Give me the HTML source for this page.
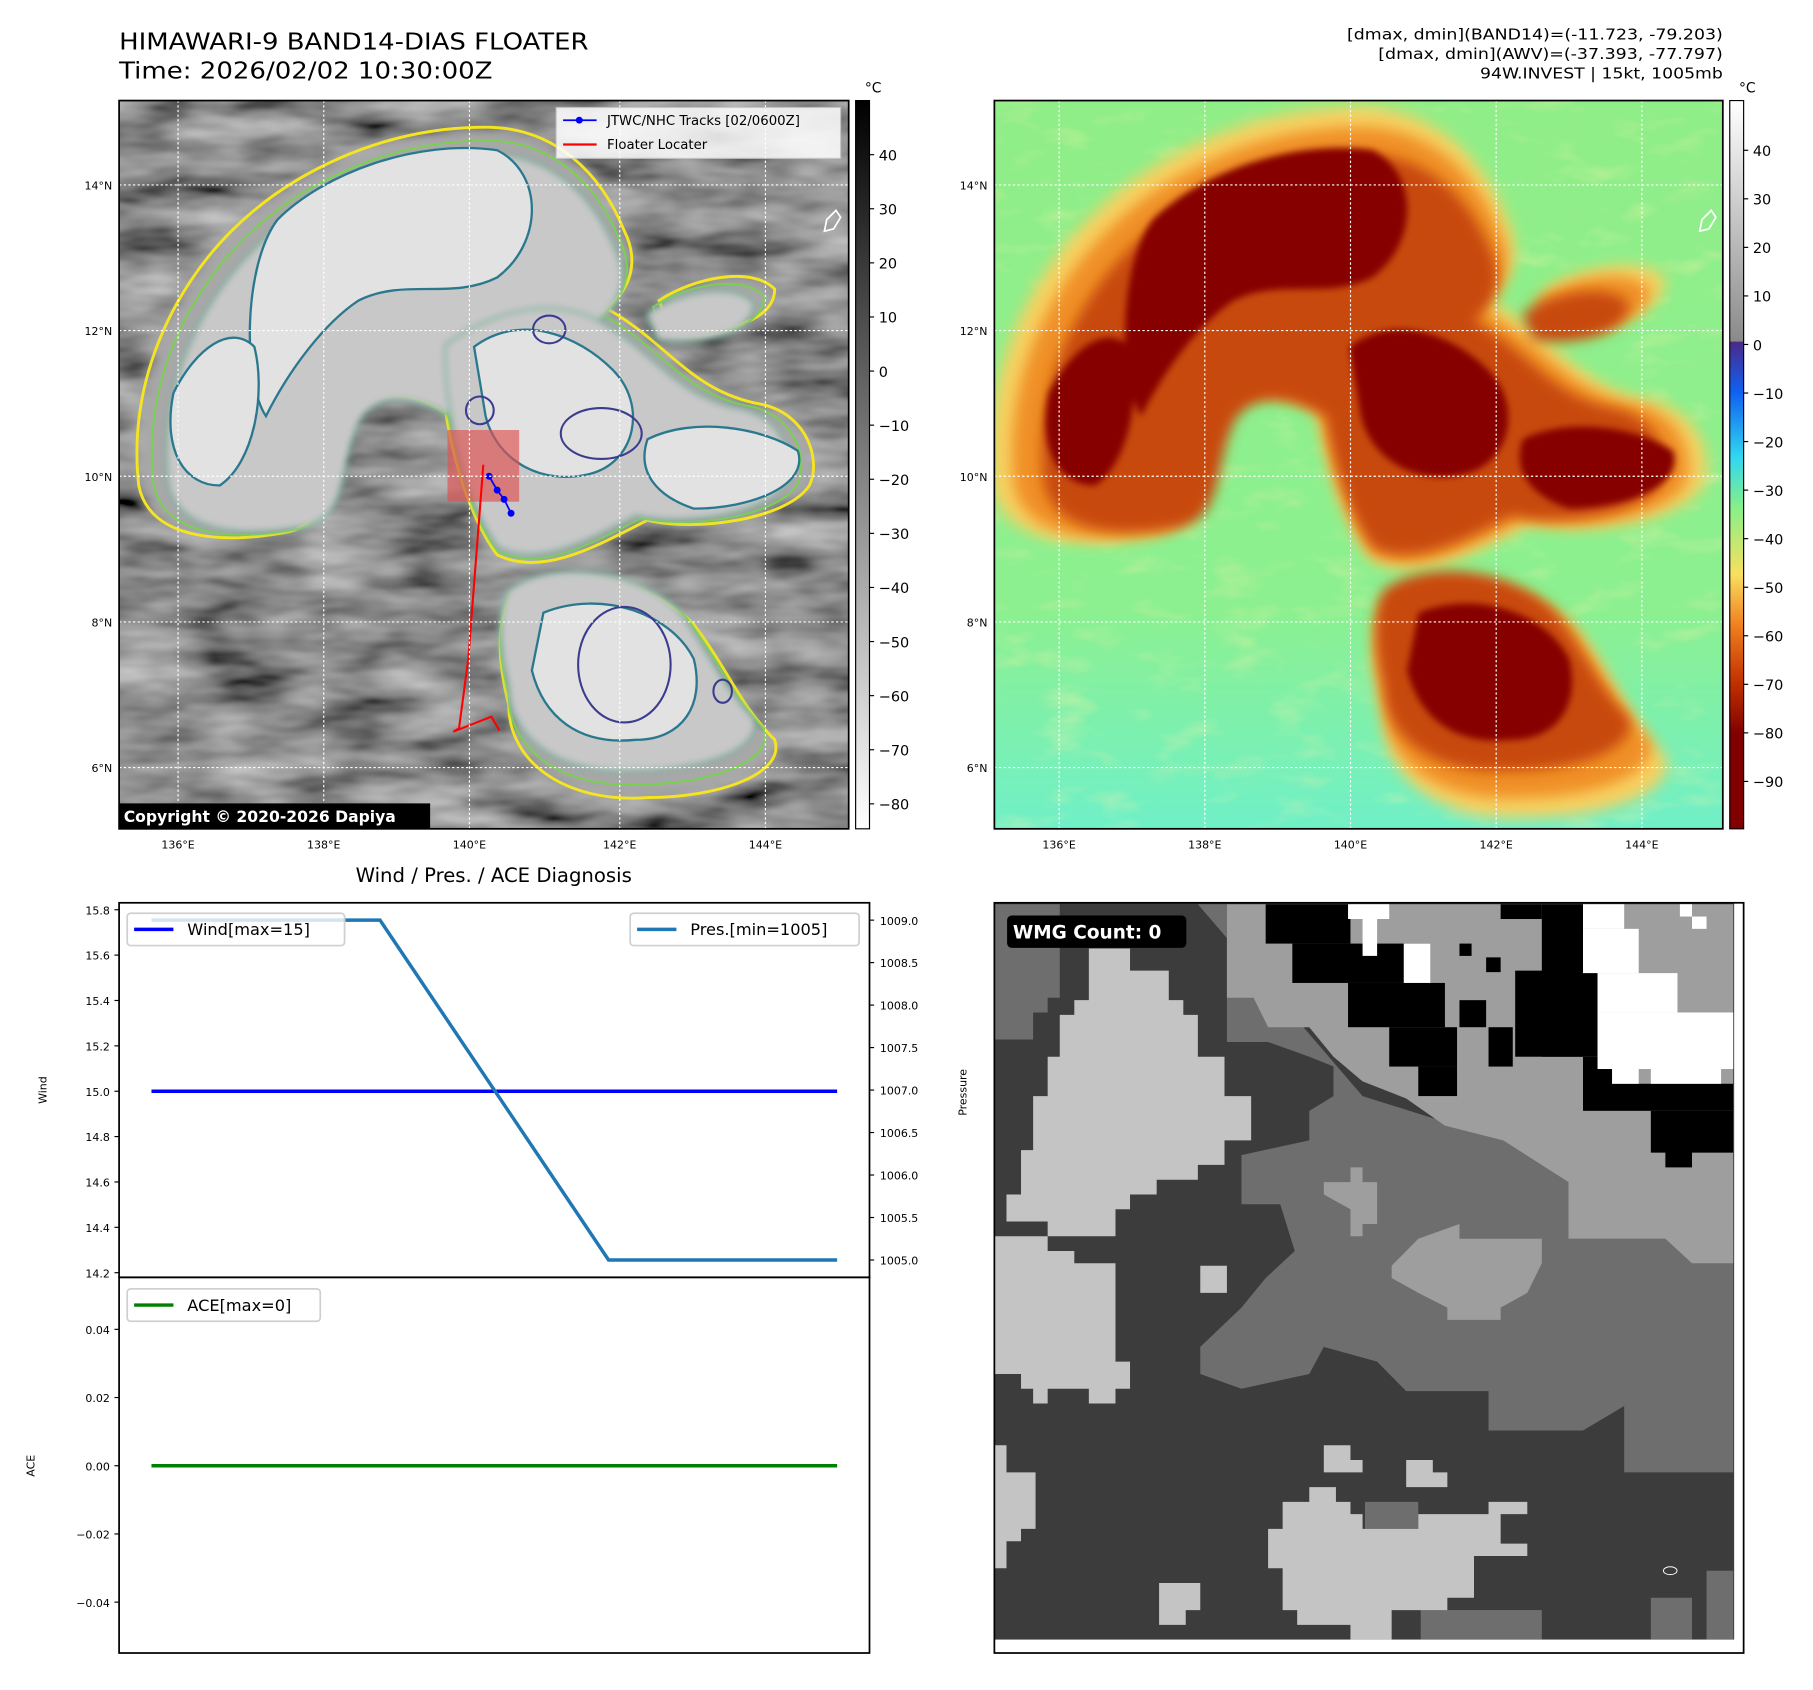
<!DOCTYPE html>
<html><head><meta charset="utf-8"><style>
html,body{margin:0;padding:0;background:#fff}
svg{display:block}
text{font-family:"DejaVu Sans","Liberation Sans",sans-serif}
</style></head><body>
<svg id="fig" width="1813" height="1690" viewBox="0 0 1568 1462" preserveAspectRatio="none" xmlns="http://www.w3.org/2000/svg">
<defs>
<filter id="noise" x="0" y="0" width="100%" height="100%">
<feTurbulence type="fractalNoise" baseFrequency="0.012 0.04" numOctaves="3" seed="4"/>
<feColorMatrix type="matrix" values="0.75 0 0 0 -0.12  0.75 0 0 0 -0.12  0.75 0 0 0 -0.12  0 0 0 0 1"/>
</filter>
<filter id="noise2" x="0" y="0" width="100%" height="100%">
<feTurbulence type="fractalNoise" baseFrequency="0.02 0.05" numOctaves="3" seed="9"/>
<feColorMatrix type="matrix" values="0 0 0 0 1  0 0 0 0 0.9  0 0 0 0 0.4  1.4 0 0 0 -0.75"/>
</filter>
<filter id="blur3"><feGaussianBlur stdDeviation="3"/></filter>
<filter id="blur6"><feGaussianBlur stdDeviation="6"/></filter>
<linearGradient id="cbGrey" x1="0" y1="0" x2="0" y2="1"><stop offset="0" stop-color="#000"/><stop offset="1" stop-color="#fff"/></linearGradient>
<linearGradient id="cbAwv" x1="0" y1="0" x2="0" y2="1">
<stop offset="0" stop-color="#ffffff"/><stop offset="0.33" stop-color="#8a8a8a"/><stop offset="0.332" stop-color="#4a2a8a"/>
<stop offset="0.4" stop-color="#1060f0"/><stop offset="0.49" stop-color="#30d8f0"/><stop offset="0.56" stop-color="#88f088"/>
<stop offset="0.65" stop-color="#f8e060"/><stop offset="0.72" stop-color="#f08020"/><stop offset="0.8" stop-color="#c03000"/><stop offset="0.87" stop-color="#800000"/><stop offset="1" stop-color="#800000"/></linearGradient>
<linearGradient id="awvBg" x1="0" y1="0" x2="0" y2="1"><stop offset="0" stop-color="#90ee88"/><stop offset="0.7" stop-color="#8cf090"/><stop offset="1" stop-color="#70f0c8"/></linearGradient>
<clipPath id="clipL"><rect x="103" y="87" width="631" height="630"/></clipPath>
<clipPath id="clipR"><rect x="860" y="87" width="630" height="630"/></clipPath>
<g id="outerBlobs">
<path d="M120,420 C110,330 150,250 200,200 C250,150 330,110 420,110 C480,110 520,150 540,200 C560,240 530,270 500,280 C450,300 420,330 390,360 C360,340 320,330 300,360 C280,400 290,450 250,460 C200,470 130,470 120,420Z"/>
<path d="M380,290 C420,260 480,240 530,270 C580,300 600,340 660,350 C700,360 710,400 700,420 C680,450 600,460 560,450 C520,470 470,500 430,480 C400,440 380,360 380,290Z"/>
<path d="M440,520 C480,490 560,500 600,540 C630,580 640,610 670,640 C680,670 620,690 560,690 C490,695 440,660 440,610 C430,570 430,540 440,520Z"/>
<path d="M570,260 C600,240 650,230 670,250 C670,280 620,290 580,285Z"/>
</g>
<g id="innerBlobs">
<path d="M240,190 C280,150 360,120 430,130 C470,150 470,210 430,240 C390,260 350,240 310,260 C280,280 250,320 230,360 C210,330 210,230 240,190Z"/>
<path d="M410,300 C450,270 500,290 530,320 C560,350 550,400 510,410 C470,420 430,400 420,360Z"/>
<path d="M560,380 C600,360 660,370 690,390 C700,420 650,440 600,440 C570,430 550,410 560,380Z"/>
<path d="M470,530 C520,510 580,530 600,570 C610,610 590,640 550,640 C500,645 470,620 460,580Z"/>
<path d="M150,340 C170,300 200,280 220,300 C230,340 220,400 190,420 C160,420 140,390 150,340Z"/>
</g>
</defs>

<text x="103" y="43" font-size="20" textLength="406" lengthAdjust="spacingAndGlyphs">HIMAWARI-9 BAND14-DIAS FLOATER</text>
<text x="103" y="68" font-size="20" textLength="323" lengthAdjust="spacingAndGlyphs">Time: 2026/02/02 10:30:00Z</text>
<g font-size="13" text-anchor="end">
<text x="1490" y="34" textLength="325" lengthAdjust="spacingAndGlyphs">[dmax, dmin](BAND14)=(-11.723, -79.203)</text>
<text x="1490" y="51" textLength="298" lengthAdjust="spacingAndGlyphs">[dmax, dmin](AWV)=(-37.393, -77.797)</text>
<text x="1490" y="68" textLength="210" lengthAdjust="spacingAndGlyphs">94W.INVEST | 15kt, 1005mb</text>
</g>

<g clip-path="url(#clipL)">
<rect x="103" y="87" width="631" height="630" fill="#555" filter="url(#noise)"/>
<use href="#outerBlobs" fill="#a8a8a8" filter="url(#blur6)"/>
<use href="#outerBlobs" fill="none" stroke="#f5e520" stroke-width="2.5"/>
<g transform="translate(440,400) scale(0.96) translate(-440,-400)"><use href="#outerBlobs" fill="none" stroke="#7ad151" stroke-width="1.8"/></g>
<g transform="translate(440,400) scale(0.92) translate(-440,-400)"><use href="#outerBlobs" fill="#c8c8c8" stroke="#22a884" stroke-width="1.8" filter="url(#blur3)"/></g>
<use href="#innerBlobs" fill="#e2e2e2" stroke="#2a788e" stroke-width="2"/>
<g fill="none" stroke="#3b3b8f" stroke-width="1.8">
<ellipse cx="520" cy="375" rx="35" ry="22"/><ellipse cx="475" cy="285" rx="14" ry="12"/><ellipse cx="540" cy="575" rx="40" ry="50"/><ellipse cx="415" cy="355" rx="12" ry="12"/><ellipse cx="625" cy="598" rx="8" ry="10"/>
</g>
<path d="M715,190 l8,-8 l4,6 l-6,10 l-8,2z" fill="none" stroke="#fff" stroke-width="1.5"/>
<rect x="387" y="372" width="62" height="62" fill="#e05050" opacity="0.65"/>
<polyline points="418,402 405,570 397,630 392,633 425,620 432,632" fill="none" stroke="#f00" stroke-width="1.8"/>
<polyline points="423,412 430,424 436,432 442,444" fill="none" stroke="#00f" stroke-width="1.5"/>
<g fill="#00f"><circle cx="423" cy="412" r="3"/><circle cx="430" cy="424" r="3"/><circle cx="436" cy="432" r="3"/><circle cx="442" cy="444" r="3"/></g>
<g stroke="#fff" stroke-width="1" stroke-dasharray="2,2">
<line x1="154" y1="87" x2="154" y2="717"/><line x1="280" y1="87" x2="280" y2="717"/><line x1="406" y1="87" x2="406" y2="717"/><line x1="536" y1="87" x2="536" y2="717"/><line x1="662" y1="87" x2="662" y2="717"/>
<line x1="103" y1="160" x2="734" y2="160"/><line x1="103" y1="286" x2="734" y2="286"/><line x1="103" y1="412" x2="734" y2="412"/><line x1="103" y1="538" x2="734" y2="538"/><line x1="103" y1="664" x2="734" y2="664"/>
</g>
<g>
<rect x="481" y="93" width="246" height="44" fill="#fff" opacity="0.85" stroke="#ccc"/>
<line x1="487" y1="104" x2="516" y2="104" stroke="#00f" stroke-width="1.5"/><circle cx="501" cy="104" r="3" fill="#00f"/>
<text x="525" y="108" font-size="11.5">JTWC/NHC Tracks [02/0600Z]</text>
<line x1="487" y1="125" x2="516" y2="125" stroke="#f00" stroke-width="2"/>
<text x="525" y="129" font-size="11.5">Floater Locater</text>
</g>
<rect x="103" y="695" width="269" height="22" fill="#000"/>
<text x="107" y="711" font-size="13.5" font-weight="bold" fill="#fff">Copyright © 2020-2026 Dapiya</text>
</g>
<rect x="103" y="87" width="631" height="630" fill="none" stroke="#000" stroke-width="1.5"/>

<g clip-path="url(#clipR)">
<rect x="860" y="87" width="630" height="630" fill="url(#awvBg)"/>
<rect x="860" y="87" width="630" height="630" filter="url(#noise2)" opacity="0.6"/>
<g transform="translate(757,0)">
<g transform="translate(440,400) scale(1.06) translate(-440,-400)"><use href="#outerBlobs" fill="#f8d060" filter="url(#blur6)"/></g>
<use href="#outerBlobs" fill="#f09028" filter="url(#blur6)"/>
<g transform="translate(440,400) scale(0.92) translate(-440,-400)"><use href="#outerBlobs" fill="#c84a10" filter="url(#blur6)"/></g>
<use href="#innerBlobs" fill="#860000" filter="url(#blur3)"/>
<path d="M715,190 l8,-8 l4,6 l-6,10 l-8,2z" fill="none" stroke="#fff" stroke-width="1.5"/>
</g>
<g stroke="#fff" stroke-width="1" stroke-dasharray="2,2">
<line x1="916" y1="87" x2="916" y2="717"/><line x1="1042" y1="87" x2="1042" y2="717"/><line x1="1168" y1="87" x2="1168" y2="717"/><line x1="1294" y1="87" x2="1294" y2="717"/><line x1="1420" y1="87" x2="1420" y2="717"/>
<line x1="860" y1="160" x2="1490" y2="160"/><line x1="860" y1="286" x2="1490" y2="286"/><line x1="860" y1="412" x2="1490" y2="412"/><line x1="860" y1="538" x2="1490" y2="538"/><line x1="860" y1="664" x2="1490" y2="664"/>
</g>
</g>
<rect x="860" y="87" width="630" height="630" fill="none" stroke="#000" stroke-width="1.5"/>

<g font-size="9.5" text-anchor="end">
<text x="97" y="164">14°N</text><text x="97" y="290">12°N</text><text x="97" y="416">10°N</text><text x="97" y="542">8°N</text><text x="97" y="668">6°N</text>
<text x="854" y="164">14°N</text><text x="854" y="290">12°N</text><text x="854" y="416">10°N</text><text x="854" y="542">8°N</text><text x="854" y="668">6°N</text>
</g>
<g font-size="9.5" text-anchor="middle">
<text x="154" y="734">136°E</text><text x="280" y="734">138°E</text><text x="406" y="734">140°E</text><text x="536" y="734">142°E</text><text x="662" y="734">144°E</text>
<text x="916" y="734">136°E</text><text x="1042" y="734">138°E</text><text x="1168" y="734">140°E</text><text x="1294" y="734">142°E</text><text x="1420" y="734">144°E</text>
</g>

<g>
<rect x="740" y="87" width="12" height="630" fill="url(#cbGrey)" stroke="#000" stroke-width="1"/>
<text x="748" y="80" font-size="12">°C</text>
<g id="cbL" font-size="12.5"></g>
</g>
<g>
<rect x="1496" y="87" width="12" height="630" fill="url(#cbAwv)" stroke="#000" stroke-width="1"/>
<text x="1504" y="80" font-size="12">°C</text>
<g id="cbR" font-size="12.5"></g>
</g>

<text x="427" y="763" font-size="17" text-anchor="middle">Wind / Pres. / ACE Diagnosis</text>
<g id="chart"></g>

<g>
<rect x="860" y="781" width="648" height="649" fill="#fff"/>
<g transform="translate(860,778) scale(0.419,0.4255)">
<rect x="0" y="8" width="1527" height="1497" fill="#3c3c3c"/>
<g fill="#6e6e6e">
<polygon points="0,10 135,10 135,200 110,200 110,230 80,230 80,285 0,285"/>
<polygon points="420,10 480,10 480,290 565,290 650,320 700,340 700,400 650,430 650,490 510,520 510,620 590,620 620,715 560,770 510,830 425,910 425,965 510,995 650,965 680,910 790,940 850,1000 1020,1000 1020,1080 1215,1080 1300,1030 1300,1165 1525,1165 1525,690 1185,690 1185,575 1050,490 760,400"/>
<rect x="880" y="1445" width="250" height="60"/><rect x="1355" y="1420" width="85" height="85"/><rect x="1470" y="1365" width="55" height="140"/><rect x="765" y="1225" width="110" height="55"/>
</g>
<g fill="#9e9e9e">
<polygon points="480,10 1525,10 1525,740 1440,740 1385,690 1185,690 1185,575 1050,490 930,460 850,405 760,370 700,320 650,260 565,260 535,200 480,200"/>
<polygon points="680,575 735,575 735,545 760,545 760,575 790,575 790,660 760,660 760,685 735,685 735,630 680,600"/>
<polygon points="820,745 875,690 960,660 960,690 1130,690 1130,740 1100,800 1045,830 1045,855 935,855 935,830 875,800 820,770"/>
</g>
<g fill="#000">
<rect x="560" y="10" width="175" height="80"/><rect x="615" y="90" width="285" height="80"/><rect x="730" y="170" width="200" height="90"/><rect x="815" y="260" width="140" height="80"/><rect x="875" y="340" width="80" height="60"/>
<rect x="1130" y="10" width="85" height="310"/><rect x="1075" y="145" width="170" height="175"/><rect x="1215" y="320" width="60" height="60"/><rect x="1215" y="375" width="310" height="55"/><rect x="1355" y="430" width="170" height="85"/><rect x="1385" y="490" width="55" height="55"/>
<rect x="1045" y="10" width="85" height="30"/><rect x="960" y="90" width="25" height="25"/><rect x="1015" y="118" width="30" height="30"/><rect x="960" y="205" width="55" height="55"/><rect x="1020" y="260" width="50" height="80"/>
</g>
<g fill="#fff">
<rect x="730" y="10" width="85" height="30"/><rect x="760" y="40" width="30" height="75"/><rect x="845" y="90" width="55" height="80"/>
<rect x="1215" y="10" width="85" height="50"/><rect x="1215" y="60" width="115" height="90"/><rect x="1245" y="150" width="165" height="80"/><rect x="1245" y="230" width="280" height="115"/><rect x="1415" y="10" width="25" height="25"/><rect x="1440" y="35" width="30" height="25"/><rect x="1275" y="345" width="55" height="30"/><rect x="1355" y="345" width="145" height="30"/>
</g>
<g fill="#c4c4c4">
<polygon points="195,100 280,100 280,145 360,145 360,205 390,205 390,235 420,235 420,320 475,320 475,400 530,400 530,490 475,490 475,540 420,540 420,570 335,570 335,600 280,600 280,630 250,630 250,685 110,685 110,655 25,655 25,600 55,600 55,510 80,510 80,400 110,400 110,320 135,320 135,235 165,235 165,205 195,205"/>
<polygon points="0,685 110,685 110,715 165,715 165,740 250,740 250,940 280,940 280,995 250,995 250,1025 195,1025 195,995 110,995 110,1025 80,1025 80,995 55,995 55,965 0,965"/>
<polygon points="595,1225 650,1225 650,1195 705,1195 705,1225 735,1225 735,1250 760,1250 760,1280 875,1280 875,1250 1020,1250 1020,1225 1100,1225 1100,1250 1045,1250 1045,1310 1100,1310 1100,1335 990,1335 990,1420 935,1420 935,1445 820,1445 820,1505 735,1505 735,1475 625,1475 625,1445 595,1445 595,1360 565,1360 565,1280 595,1280"/>
<polygon points="0,1110 25,1110 25,1165 85,1165 85,1280 55,1280 55,1305 25,1305 25,1360 0,1360"/>
<polygon points="340,1390 425,1390 425,1445 395,1445 395,1475 340,1475"/>
<polygon points="680,1110 735,1110 735,1140 760,1140 760,1165 680,1165"/>
<polygon points="850,1140 905,1140 905,1165 935,1165 935,1195 850,1195"/>
<polygon points="425,745 480,745 480,800 425,800"/>
</g>
<ellipse cx="1395" cy="1365" rx="14" ry="8" fill="none" stroke="#fff" stroke-width="2"/>
</g>
<rect x="860" y="781" width="648" height="649" fill="none" stroke="#000" stroke-width="1.5"/>
<rect x="871" y="792" width="155" height="28" rx="4" fill="#000"/>
<text x="876" y="812" font-size="16" font-weight="bold" fill="#fff">WMG Count: 0</text>
</g>
</svg>
<script>
const timeIndex = [0, 1, 2, 3];
const windValues = [15, 15, 15, 15];
const presValues = [1009, 1009, 1005, 1005];
const aceValues = [0, 0, 0, 0];
const windTicks = [14.2, 14.4, 14.6, 14.8, 15.0, 15.2, 15.4, 15.6, 15.8];
const presTicks = [1005.0, 1005.5, 1006.0, 1006.5, 1007.0, 1007.5, 1008.0, 1008.5, 1009.0];
const aceTicks = [-0.04, -0.02, 0.00, 0.02, 0.04];
const cbLTicks = [40, 30, 20, 10, 0, -10, -20, -30, -40, -50, -60, -70, -80];
const cbRTicks = [40, 30, 20, 10, 0, -10, -20, -30, -40, -50, -60, -70, -80, -90];

const NS = 'http://www.w3.org/2000/svg';
function mk(tag, attrs, parent, txt) {
  const e = document.createElementNS(NS, tag);
  for (const k in attrs) e.setAttribute(k, attrs[k]);
  if (txt !== undefined) e.textContent = txt;
  parent.appendChild(e);
  return e;
}
const fmtNeg = v => (v < 0 ? '\u2212' + Math.abs(v) : String(v));

const cbLy = v => 321 - v * 4.68;
const cbRy = v => 298 - v * 4.2;
const gL = document.getElementById('cbL');
cbLTicks.forEach(v => {
  mk('line', {x1: 752, x2: 756, y1: cbLy(v), y2: cbLy(v), stroke: '#000'}, gL);
  const t = mk('text', {x: 760, y: cbLy(v) + 5}, gL, fmtNeg(v));
  
  
});
const gR = document.getElementById('cbR');
cbRTicks.forEach(v => {
  mk('line', {x1: 1508, x2: 1512, y1: cbRy(v), y2: cbRy(v), stroke: '#000'}, gR);
  const t = mk('text', {x: 1516, y: cbRy(v) + 5}, gR, fmtNeg(v));
  
  
});

const X0 = 103, X1 = 752, TOP = 781, MID = 1105, BOT = 1430;
const xs = i => 131 + (i - timeIndex[0]) / (timeIndex[timeIndex.length - 1] - timeIndex[0]) * 593;
const yWind = v => 1101 - (v - 14.2) / 1.6 * 314;
const yPres = v => 1090 - (v - 1005) / 4 * 294;
const yAce = v => 1268 - v / 0.04 * 118;
const ch = document.getElementById('chart');

windTicks.forEach(v => {
  mk('line', {x1: X0 - 4, x2: X0, y1: yWind(v), y2: yWind(v), stroke: '#000'}, ch);
  const t = mk('text', {x: X0 - 8, y: yWind(v) + 4, 'font-size': 9.5, 'text-anchor': 'end'}, ch, v.toFixed(1));
  
  
});
presTicks.forEach(v => {
  mk('line', {x1: X1, x2: X1 + 4, y1: yPres(v), y2: yPres(v), stroke: '#000'}, ch);
  const t = mk('text', {x: X1 + 9, y: yPres(v) + 4, 'font-size': 9.5}, ch, v.toFixed(1));
  
  
});
aceTicks.forEach(v => {
  mk('line', {x1: X0 - 4, x2: X0, y1: yAce(v), y2: yAce(v), stroke: '#000'}, ch);
  const t = mk('text', {x: X0 - 8, y: yAce(v) + 4, 'font-size': 9.5, 'text-anchor': 'end'}, ch, (v < 0 ? '\u2212' : '') + Math.abs(v).toFixed(2));
  
  
});

const wl = mk('polyline', {points: timeIndex.map((t, i) => xs(t) + ',' + yWind(windValues[i])).join(' '), fill: 'none', stroke: '#0000ff', 'stroke-width': 3}, ch);


const pl = mk('polyline', {points: timeIndex.map((t, i) => xs(t) + ',' + yPres(presValues[i])).join(' '), fill: 'none', stroke: '#1f77b4', 'stroke-width': 3}, ch);


const al = mk('polyline', {points: timeIndex.map((t, i) => xs(t) + ',' + yAce(aceValues[i])).join(' '), fill: 'none', stroke: '#008000', 'stroke-width': 3}, ch);



mk('rect', {x: X0, y: TOP, width: X1 - X0, height: MID - TOP, fill: 'none', stroke: '#000', 'stroke-width': 1.5}, ch);
mk('rect', {x: X0, y: MID, width: X1 - X0, height: BOT - MID, fill: 'none', stroke: '#000', 'stroke-width': 1.5}, ch);

const yl1 = mk('text', {x: 0, y: 0, 'font-size': 9.5, 'text-anchor': 'middle', transform: 'translate(40,943) rotate(-90)'}, ch, 'Wind');


const yl2 = mk('text', {x: 0, y: 0, 'font-size': 9.5, 'text-anchor': 'middle', transform: 'translate(836,945) rotate(-90)'}, ch, 'Pressure');


const yl3 = mk('text', {x: 0, y: 0, 'font-size': 9.5, 'text-anchor': 'middle', transform: 'translate(30,1268) rotate(-90)'}, ch, 'ACE');



function legend(x, y, w, color, label, name) {
  const g = mk('g', {}, ch);
  
  
  mk('rect', {x: x, y: y, width: w, height: 28, rx: 3, fill: '#fff', 'fill-opacity': 0.8, stroke: '#d0d0d0', 'stroke-width': 1.5}, g);
  mk('line', {x1: x + 6, x2: x + 40, y1: y + 14, y2: y + 14, stroke: color, 'stroke-width': 3}, g);
  mk('text', {x: x + 52, y: y + 19, 'font-size': 14}, g, label);
}
legend(110, 790, 188, '#0000ff', 'Wind[max=15]', 'wind-legend');
legend(545, 790, 198, '#1f77b4', 'Pres.[min=1005]', 'pressure-legend');
legend(110, 1115, 167, '#008000', 'ACE[max=0]', 'ace-legend');
</script>
</body></html>
